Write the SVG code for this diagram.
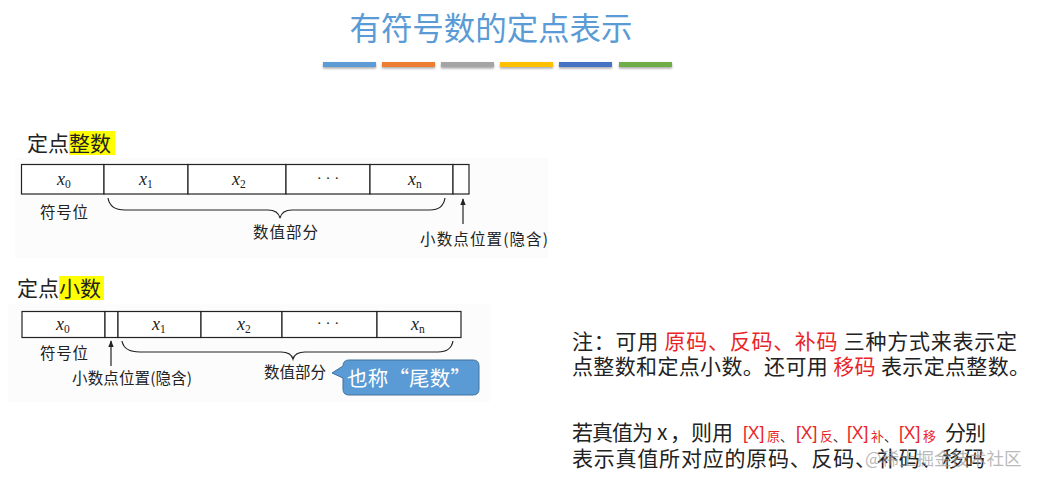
<svg xmlns="http://www.w3.org/2000/svg" width="1041" height="486" viewBox="0 0 1041 486">
<defs>
<style>
.cjk{font-family:"Noto Sans CJK SC","Liberation Sans",sans-serif;}
.lbl{font-family:"Noto Sans CJK SC",sans-serif;font-size:15.5px;fill:#222;}
.cell{fill:#fff;stroke:#222;stroke-width:1.2;}
.var{font-family:"Liberation Serif",serif;font-style:italic;font-size:18px;fill:#222;}
.sub{font-family:"Liberation Serif",serif;font-style:normal;font-size:11.5px;}
.brace{fill:none;stroke:#222;stroke-width:1.2;}
.red{fill:#e8262a;}
.note{font-family:"Noto Sans CJK SC","Liberation Sans",sans-serif;font-size:21px;fill:#222;}
.bx{font-family:"Liberation Sans",sans-serif;font-size:17.5px;fill:#e8262a;}
.sm{font-family:"Noto Sans CJK SC",sans-serif;font-size:13px;fill:#e8262a;}
.dn{font-family:"Noto Sans CJK SC",sans-serif;font-size:13px;fill:#222;}
.hl{fill:#ffff00;}
</style>
<marker id="ah" viewBox="0 0 10 10" refX="9" refY="5" markerWidth="7" markerHeight="9" orient="auto" markerUnits="userSpaceOnUse">
<path d="M0,1 L10,5 L0,9 Z" fill="#222"/>
</marker>
<filter id="sh" x="-10%" y="-50%" width="120%" height="250%">
<feDropShadow dx="0" dy="1.5" stdDeviation="1" flood-color="#000" flood-opacity="0.35"/>
</filter>
</defs>
<rect width="1041" height="486" fill="#fff"/>

<g id="title">
<text x="491" y="40" text-anchor="middle" class="cjk" font-size="31.5" fill="#5b9bd5" textLength="283">有符号数的定点表示</text>
<g filter="url(#sh)">
<rect x="323" y="62" width="53" height="5" fill="#5b9bd5"/>
<rect x="382" y="62" width="53" height="5" fill="#ed7d31"/>
<rect x="441" y="62" width="53" height="5" fill="#a5a5a5"/>
<rect x="500" y="62" width="53" height="5" fill="#ffc000"/>
<rect x="559" y="62" width="53" height="5" fill="#4472c4"/>
<rect x="619" y="62" width="53" height="5" fill="#70ad47"/>
</g>
</g>

<g id="integer">
<rect x="15" y="158" width="533" height="100" fill="#fcfcfc"/>
<rect class="hl" x="69" y="131" width="46" height="24"/>
<text x="27" y="151" class="cjk" font-size="21" fill="#222">定点整数</text>
<g id="int-register">
<rect class="cell" x="21.5" y="164.5" width="82.5" height="29.5"/>
<rect class="cell" x="104" y="164.5" width="84" height="29.5"/>
<rect class="cell" x="188" y="164.5" width="98" height="29.5"/>
<rect class="cell" x="286" y="164.5" width="84" height="29.5"/>
<rect class="cell" x="370" y="164.5" width="83" height="29.5"/>
<rect class="cell" x="453" y="164.5" width="16" height="29.5"/>
<text class="var" x="57" y="185">x<tspan class="sub" dy="3">0</tspan></text>
<text class="var" x="139" y="185">x<tspan class="sub" dy="3">1</tspan></text>
<text class="var" x="232" y="185">x<tspan class="sub" dy="3">2</tspan></text>
<text x="328" y="183" text-anchor="middle" font-family="Liberation Serif,serif" font-size="15" fill="#222">·  ·  ·</text>
<text class="var" x="408" y="185">x<tspan class="sub" dy="3" font-style="italic">n</tspan></text>
</g>
<text class="lbl" x="40" y="218" textLength="48">符号位</text>
<text class="lbl" x="253" y="238" textLength="65">数值部分</text>
<text class="lbl" x="420" y="245" textLength="128">小数点位置(隐含)</text>
</g>

<g id="fraction">
<rect x="8" y="304" width="482" height="98" fill="#fcfcfc"/>
<rect class="hl" x="59" y="276" width="45" height="24"/>
<text x="17" y="296" class="cjk" font-size="21" fill="#222">定点小数</text>
<g id="frac-register">
<rect class="cell" x="22" y="311.5" width="83" height="26"/>
<rect class="cell" x="105" y="311.5" width="13" height="26"/>
<rect class="cell" x="118" y="311.5" width="83" height="26"/>
<rect class="cell" x="201" y="311.5" width="81" height="26"/>
<rect class="cell" x="282" y="311.5" width="95" height="26"/>
<rect class="cell" x="377" y="311.5" width="84" height="26"/>
<text class="var" x="56" y="330">x<tspan class="sub" dy="3">0</tspan></text>
<text class="var" x="152" y="330">x<tspan class="sub" dy="3">1</tspan></text>
<text class="var" x="237" y="330">x<tspan class="sub" dy="3">2</tspan></text>
<text x="328" y="328" text-anchor="middle" font-family="Liberation Serif,serif" font-size="15" fill="#222">·  ·  ·</text>
<text class="var" x="411" y="330">x<tspan class="sub" dy="3" font-style="italic">n</tspan></text>
</g>
<text class="lbl" x="40" y="359" textLength="48">符号位</text>
<text class="lbl" x="72" y="384" textLength="120">小数点位置(隐含)</text>
<text class="lbl" x="264" y="378" textLength="62">数值部分</text>
</g>

<g id="callout">
<path d="M349,360 H473 Q479,360 479,366 V389 Q479,395 473,395 H349 Q343,395 343,389 V378 L332,373 L343,366 Q343,360 349,360 Z" fill="#5b9bd5" stroke="#41719c" stroke-width="1"/>
<text x="347" y="386" class="cjk" font-size="20.5" fill="#fff" textLength="124">也称“尾数”</text>
</g>

<g id="connectors">
<path class="brace" d="M108,198 Q110,210 125,210 L268,210 Q278,210 280,218 Q282,210 292,210 L430,210 Q443,210 445,198"/>
<line x1="463" y1="224" x2="463" y2="199" stroke="#222" stroke-width="1.2" marker-end="url(#ah)"/>
<path class="brace" d="M122,341 Q124,352 140,352 L281,352 Q291,352 293,359 Q295,352 305,352 L438,352 Q451,352 453,341"/>
<line x1="111" y1="366" x2="111" y2="341" stroke="#222" stroke-width="1.2" marker-end="url(#ah)"/>
</g>

<g id="notes">
<text class="note" x="572" y="349" textLength="445">注：可用 <tspan class="red">原码、反码、补码</tspan> 三种方式来表示定</text>
<text class="note" x="572" y="374" textLength="458">点整数和定点小数。还可用 <tspan class="red">移码</tspan> 表示定点整数。</text>
<text class="note" x="572" y="440" textLength="81">若真值为</text>
<text class="note" x="657" y="440" font-family="Liberation Sans,sans-serif" font-size="19">x</text>
<text class="note" x="670" y="440" textLength="63">，则用</text>
<text class="bx" x="743" y="439">[X]</text>
<text class="sm" x="767" y="441">原</text>
<text class="dn" x="780" y="441">、</text>
<text class="bx" x="796" y="439">[X]</text>
<text class="sm" x="820" y="441">反</text>
<text class="dn" x="833" y="441">、</text>
<text class="bx" x="847" y="439">[X]</text>
<text class="sm" x="871" y="441">补</text>
<text class="dn" x="884" y="441">、</text>
<text class="bx" x="899" y="439">[X]</text>
<text class="sm" x="923" y="441">移</text>
<text class="note" x="945" y="440" textLength="41">分别</text>
<text class="note" x="572" y="466" textLength="413">表示真值所对应的原码、反码、补码、移码</text>
<text x="865" y="465" class="cjk" font-size="17.5" fill="#9a9a9a" fill-opacity="0.7">@稀土掘金技术社区</text>
</g>
</svg>
